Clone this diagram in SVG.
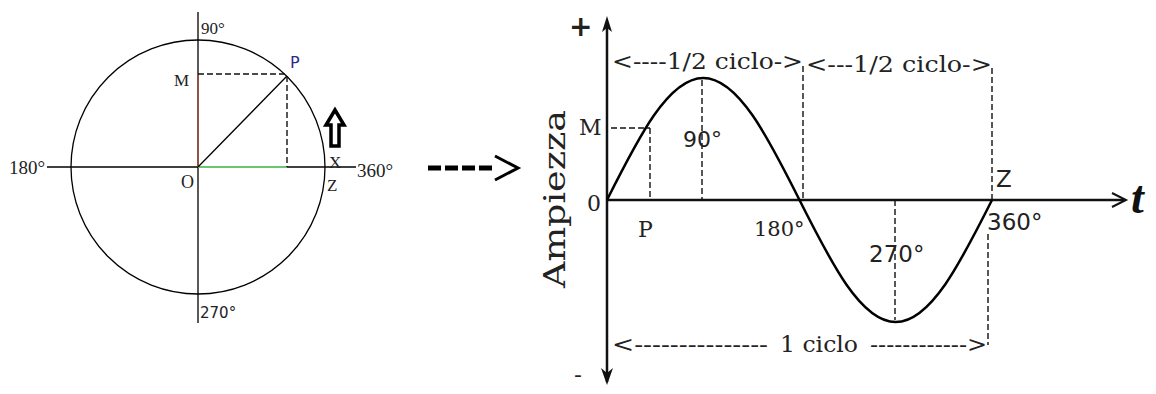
<svg xmlns="http://www.w3.org/2000/svg" width="1156" height="394" viewBox="0 0 1156 394">
<style>
.ln{stroke:#000;stroke-width:1.3;fill:none}
.th{stroke:#111;stroke-width:2.5;fill:none}
.ds{stroke:#111;stroke-width:1.4;stroke-dasharray:6 3;fill:none}
.sr{font-family:"Liberation Serif",serif;fill:#222}
.bk{font-family:"DejaVu Serif","Liberation Serif",serif;fill:#222}
.sn{font-family:"DejaVu Sans","Liberation Sans",sans-serif;fill:#222}
</style>
<rect width="1156" height="394" fill="#fff"/>

<g id="circle-diagram">
<circle cx="198" cy="167" r="127" class="ln"/>
<line x1="198" y1="12" x2="198" y2="323" class="ln"/>
<line x1="47" y1="167" x2="356" y2="167" class="ln"/>
<line x1="198" y1="74" x2="198" y2="167" stroke="#b0503c" stroke-width="1.3"/>
<line x1="198" y1="167" x2="287" y2="167" stroke="#6cc46c" stroke-width="2"/>
<line x1="198" y1="167" x2="287" y2="76" class="ln"/>
<line x1="198" y1="74" x2="287" y2="74" class="ds"/>
<line x1="287" y1="76" x2="287" y2="167" class="ds"/>
<path d="M335,110 L326,125 L331,125 L331,146 L339,146 L339,125 L344,125 Z" fill="#fff" stroke="#000" stroke-width="3.5" stroke-linejoin="miter"/>
<text x="201" y="34" class="sr" font-size="17">90°</text>
<text x="9" y="174" class="sr" font-size="19">180°</text>
<text x="357" y="177" class="sr" font-size="19">360°</text>
<text x="200" y="318" class="sn" font-size="15">270°</text>
<text x="174" y="86" class="sr" font-size="17">M</text>
<text x="290" y="68" class="sn" font-size="16" style="fill:#2a2a8c">P</text>
<text x="181" y="188" class="sr" font-size="18">O</text>
<text x="329" y="168" class="sr" font-size="17">X</text>
<text x="327" y="191" class="sr" font-size="17">Z</text>
</g>

<g id="transition-arrow">
<line x1="428" y1="168" x2="493" y2="168" stroke="#000" stroke-width="5" stroke-dasharray="13 4"/>
<path d="M495,156 L518,168 L495,180" fill="none" stroke="#000" stroke-width="3"/>
</g>

<g id="axes">
<line x1="607" y1="22" x2="607" y2="382" class="th"/>
<path d="M607,16 L602,32 L607,28 L612,32 Z" fill="#111"/>
<path d="M607,385 L601,368 L607,373 L613,368 Z" fill="#111"/>
<line x1="607" y1="200" x2="1124" y2="200" class="th"/>
<path d="M1112,193 L1126,200 L1112,207" fill="none" stroke="#111" stroke-width="2"/>
<text x="1131" y="213" font-family="Liberation Serif,serif" font-weight="bold" font-style="italic" font-size="46" fill="#111">t</text>
<text x="569" y="36" class="sn" font-size="28" font-weight="bold">+</text>
<text x="574" y="382" class="sn" font-size="22">-</text>
<text transform="translate(565,288) rotate(-90)" class="bk" font-size="30" textLength="178" lengthAdjust="spacingAndGlyphs">Ampiezza</text>
</g>

<g id="sine-wave">
<path d="M607,200 C638.4,137.5 668.4,78 703.25,78 C738.1,78 768.1,137.5 799.5,200 C830.9,262.5 860.9,322 895.75,322 C930.6,322 960.6,262.5 992,200" fill="none" stroke="#000" stroke-width="2.5"/>
</g>

<g id="guides">
<line x1="611" y1="128" x2="650" y2="128" class="ds"/>
<line x1="650" y1="128" x2="650" y2="200" class="ds"/>
<line x1="702" y1="80" x2="702" y2="200" class="ds"/>
<line x1="803" y1="66" x2="803" y2="200" class="ds"/>
<line x1="992" y1="68" x2="992" y2="200" class="ds"/>
<line x1="895" y1="200" x2="895" y2="320" class="ds"/>
<line x1="988" y1="234" x2="988" y2="345" class="ds"/>
</g>

<g id="labels">
<text x="612" y="69" class="bk" font-size="22" textLength="191" lengthAdjust="spacingAndGlyphs">&lt;----1/2 ciclo-&gt;</text>
<text x="806" y="72" class="bk" font-size="22" textLength="186" lengthAdjust="spacingAndGlyphs">&lt;---1/2 ciclo-&gt;</text>
<text x="612" y="352" class="bk" font-size="22" textLength="156" lengthAdjust="spacingAndGlyphs">&lt;---------------</text>
<text x="780" y="352" class="bk" font-size="22" textLength="78" lengthAdjust="spacingAndGlyphs">1 ciclo</text>
<text x="870" y="352" class="bk" font-size="22" textLength="117" lengthAdjust="spacingAndGlyphs">------------&gt;</text>
<text x="579" y="135" class="bk" font-size="22">M</text>
<text x="587" y="211" class="bk" font-size="22">0</text>
<text x="638" y="237" class="bk" font-size="22">P</text>
<text x="754" y="236" class="bk" font-size="21">180°</text>
<text x="683" y="147" class="sn" font-size="22">90°</text>
<text x="869" y="262" class="sn" font-size="23">270°</text>
<text x="987" y="230" class="sn" font-size="23">360°</text>
<text x="996" y="187" class="sn" font-size="23">Z</text>
</g>
</svg>
